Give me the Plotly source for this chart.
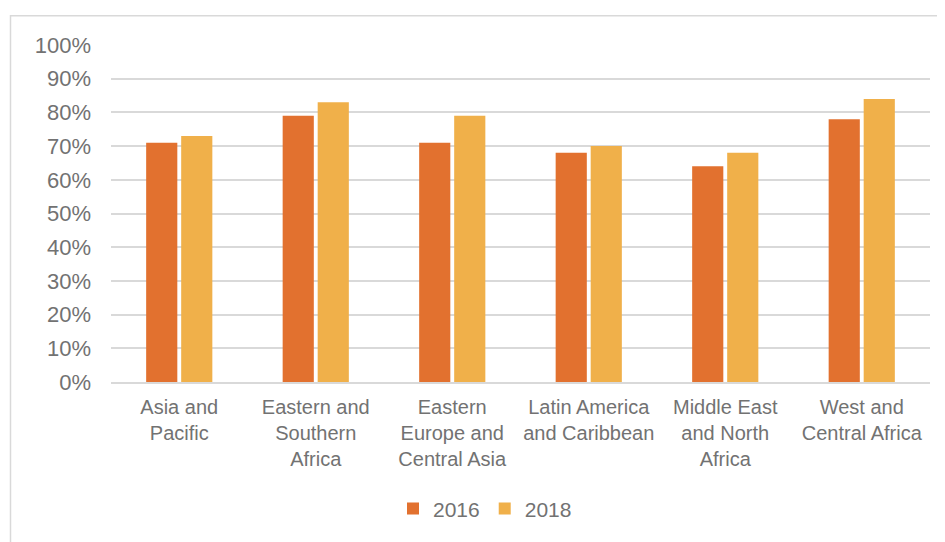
import plotly.graph_objects as go

categories = ["Asia and<br>Pacific", "Eastern and<br>Southern<br>Africa", "Eastern<br>Europe and<br>Central Asia",
              "Latin America<br>and Caribbean", "Middle East<br>and North<br>Africa", "West and<br>Central Africa"]
values_2016 = [0.71, 0.79, 0.71, 0.68, 0.64, 0.78]
values_2018 = [0.73, 0.83, 0.79, 0.70, 0.68, 0.84]
y_ticks = [0, 0.1, 0.2, 0.3, 0.4, 0.5, 0.6, 0.7, 0.8, 0.9, 1.0]

FONT = "Liberation Sans, Arial, sans-serif"
TXT = "#727272"

fig = go.Figure()
fig.add_trace(go.Bar(name="2016", x=categories, y=values_2016, marker=dict(color="#E2712F", line=dict(width=0))))
fig.add_trace(go.Bar(name="2018", x=categories, y=values_2018, marker=dict(color="#F0B04A", line=dict(width=0))))

# page body has an 8px margin, so the figure is sized to fit the window
OFF = 8
W, H = 945 - OFF, 542 - OFF
L, R, T, B = 103, 15, 37, 157
pw, ph = W - L - R, H - T - B

def px_x(x):
    return (x - OFF - L) / pw

def px_y(y):
    return (H - B - (y - OFF)) / ph

fig.update_layout(
    width=W, height=H,
    margin=dict(l=L, r=R, t=T, b=B),
    paper_bgcolor="white", plot_bgcolor="white",
    barmode="group", bargap=0.487, bargroupgap=0.11,
    font=dict(family=FONT, size=20, color=TXT),
    showlegend=True,
    legend=dict(orientation="h", x=px_x(485), y=px_y(513), xanchor="center", yanchor="middle",
                font=dict(family=FONT, size=21, color=TXT), itemwidth=30, traceorder="normal"),
    xaxis=dict(showgrid=False, showline=True, linecolor="#d9d9d9", linewidth=1.5, ticks="",
               ticklabelstandoff=6,
               tickfont=dict(family=FONT, size=20, color=TXT), tickangle=0, automargin=False),
    yaxis=dict(range=[0, 1], tickvals=y_ticks, tickformat=".0%", showgrid=True, gridcolor="#d9d9d9",
               gridwidth=1.5, zeroline=False, showline=False, ticks="", ticklabelstandoff=19,
               tickfont=dict(family=FONT, size=22, color=TXT), automargin=False),
    shapes=[dict(type="rect", xref="paper", yref="paper", x0=px_x(10.5), x1=px_x(1100), y0=px_y(15.5), y1=px_y(800),
                 line=dict(color="#d9d9d9", width=1.5), fillcolor="rgba(0,0,0,0)", layer="below")],
)

fig.write_html("out.html")
